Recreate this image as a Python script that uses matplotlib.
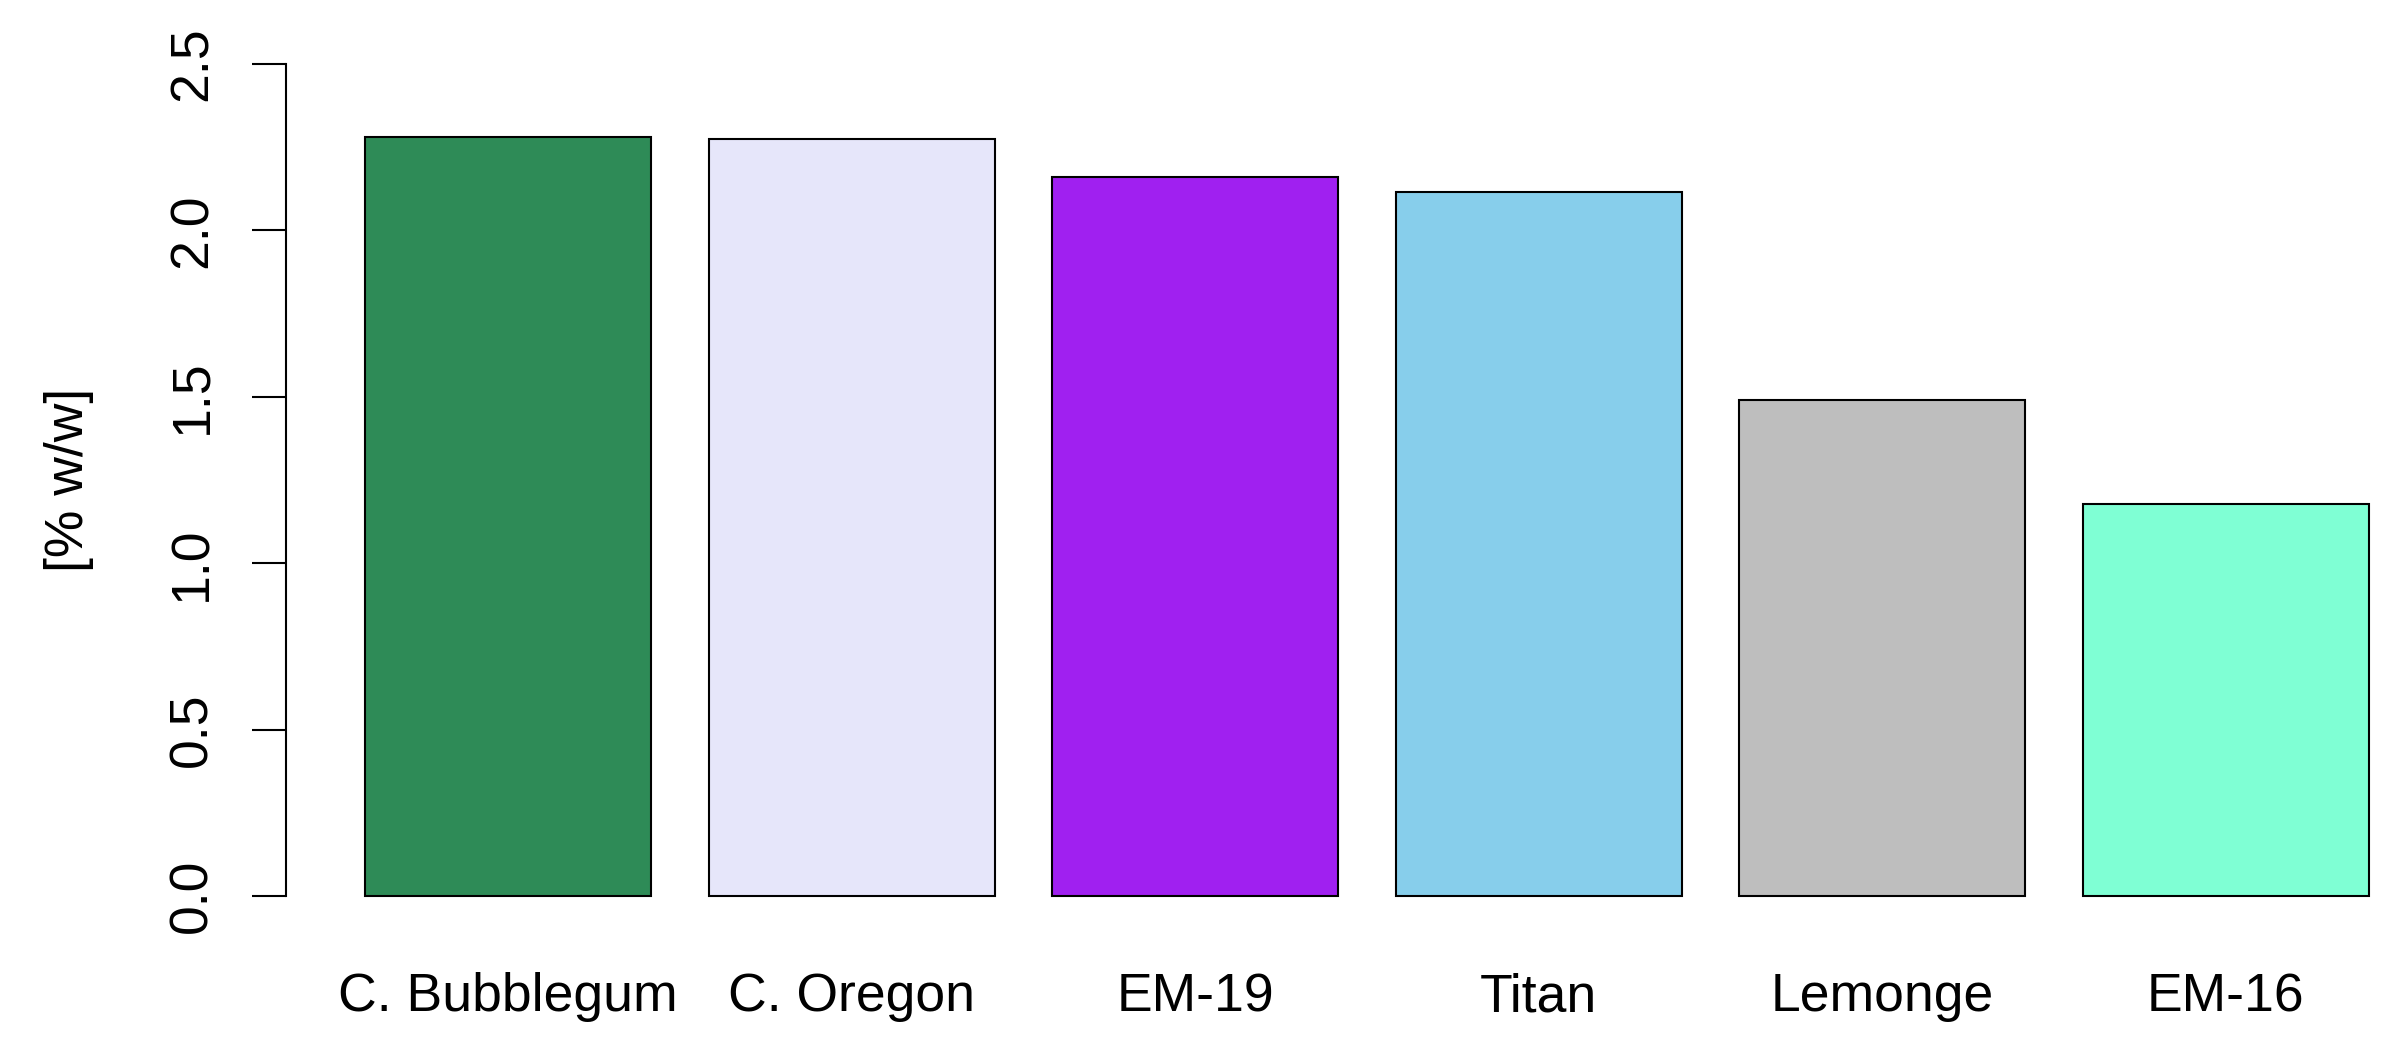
import numpy as np
import matplotlib.pyplot as plt

plt.rcParams['font.family'] = ['Liberation Sans', 'DejaVu Sans']

# values
varieties = ['C. Bubblegum', 'C. Oregon', 'EM-19', 'Titan', 'Lemonge', 'EM-16']
content   = [2.281, 2.275, 2.160, 2.115, 1.490, 1.178]
colours   = ['#2E8B57', '#E6E6FA', '#A020F0', '#87CEEB', '#BEBEBE', '#7FFFD4']
yticks    = [0.0, 0.5, 1.0, 1.5, 2.0, 2.5]

# R-style barplot positions: width 1, space 0.2
x = 0.7 + 1.2 * np.arange(len(varieties))

fig = plt.figure(figsize=(24, 10.4), dpi=100)
ax = fig.add_axes([0.11917, 0.1064, 0.87983, 0.864])

ax.bar(x, content, width=1.0, color=colours, edgecolor='black', linewidth=1.5)

ax.set_xlim(-0.076, 7.3)
ax.set_ylim(-0.1, 2.6)

for side in ['top', 'right', 'bottom']:
    ax.spines[side].set_visible(False)
ax.spines['left'].set_bounds(0, 2.5)
ax.spines['left'].set_linewidth(1.5)

ax.set_yticks(yticks)
ax.set_yticklabels([f'{v:.1f}' for v in yticks], rotation=90, va='center')
ax.tick_params(axis='y', length=24.5, width=1.5, pad=25, labelsize=38.5)

ax.set_xticks(x)
ax.set_xticklabels(varieties)
ax.tick_params(axis='x', length=0, pad=31, labelsize=38.5)

fig.text(69 / 2400, 1 - 480 / 1040, '[% w/w]', rotation=90, ha='center', va='center', fontsize=38.5)

plt.savefig('out.png', dpi=100)
